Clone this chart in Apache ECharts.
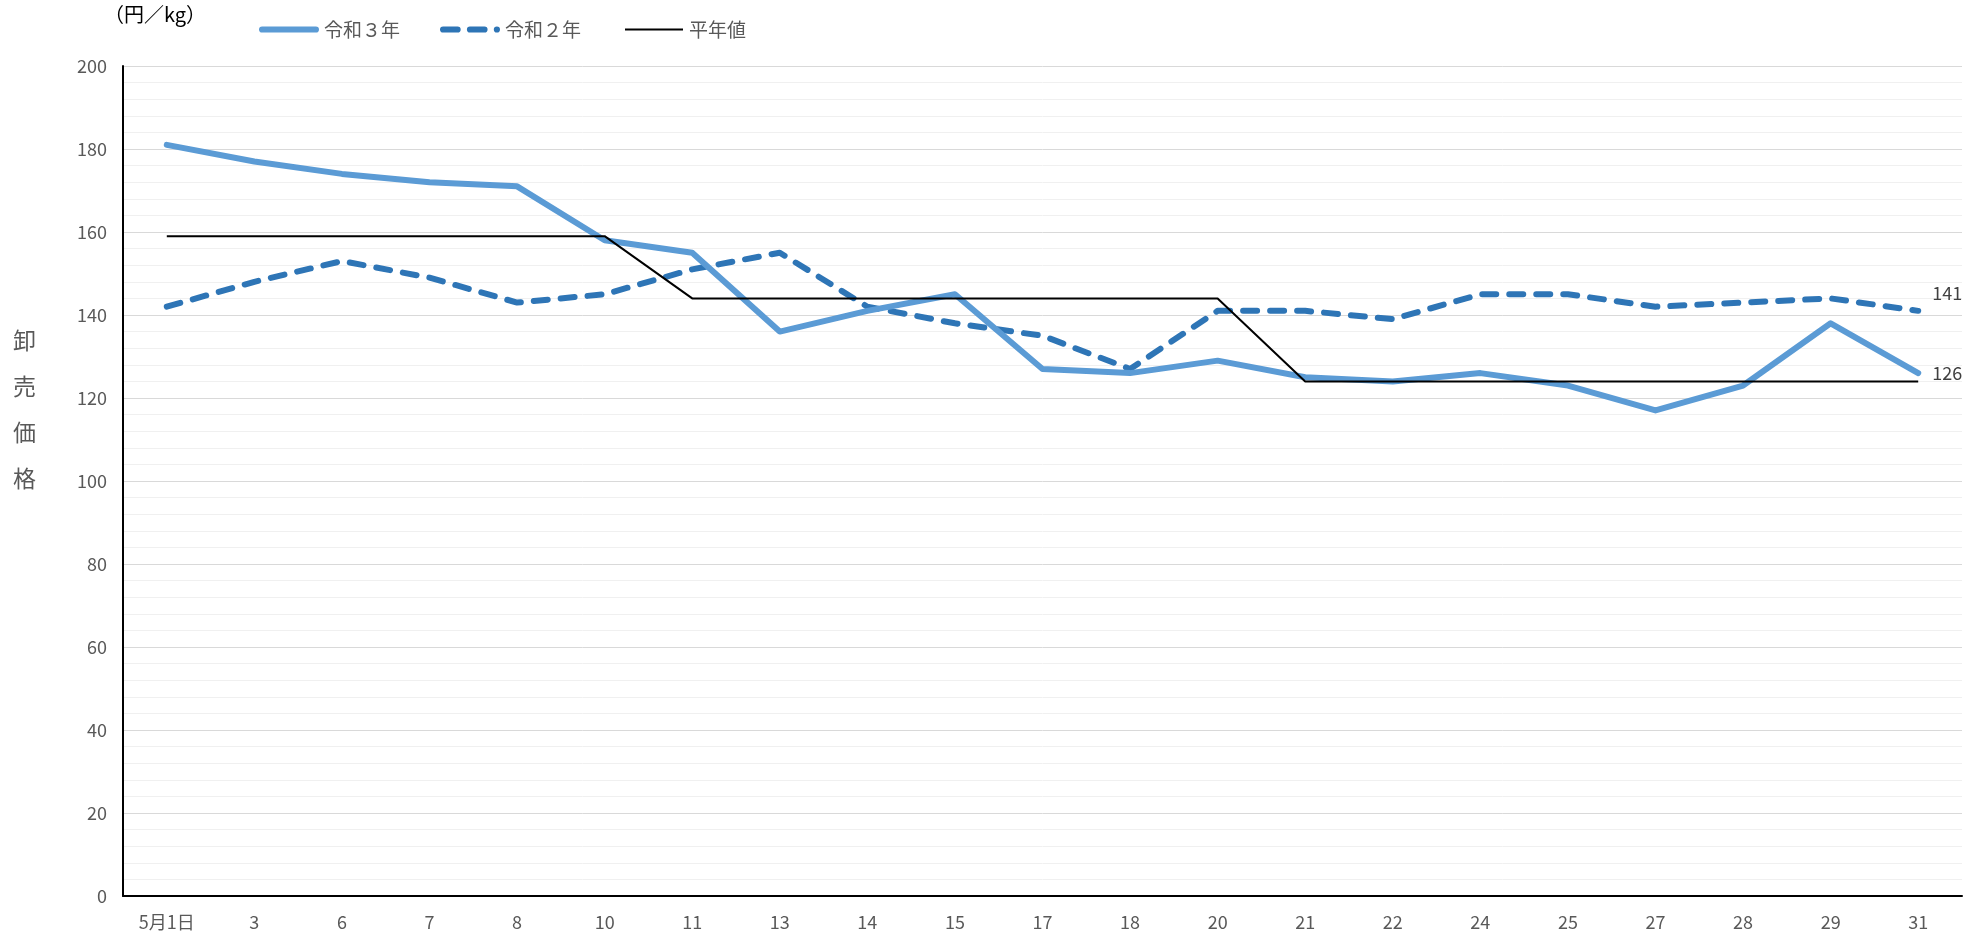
<!DOCTYPE html>
<html><head><meta charset="utf-8">
<script src="https://cdn.jsdelivr.net/npm/echarts@6/dist/echarts.min.js"></script>
<style>html,body{margin:0;padding:0;background:#fff}#c{width:1975px;height:938px}</style>
</head><body><div id="c"></div>
<script>
const categories = ['5月1日','3','6','7','8','10','11','13','14','15','17','18','20','21','22','24','25','27','28','29','31'];
const r3 = [181,177,174,172,171,158,155,136,141,145,127,126,129,125,124,126,123,117,123,138,126];
const r2 = [142,148,153,149,143,145,151,155,142,138,135,127,141,141,139,145,145,142,143,144,141];
const normal = [159,159,159,159,159,159,144,144,144,144,144,144,144,124,124,124,124,124,124,124,124];
const seriesNames = ['令和３年','令和２年','平年値'];
const FONT = "'Liberation Sans Narrow','Noto Sans CJK JP',sans-serif";

const legendText = {color: '#595959', fontSize: 19, fontFamily: FONT};
const solidIcon = 'path://M3,0H55A3,3 0 0 1 55,6H3A3,3 0 0 1 3,0Z';
const dashIcon = 'path://M3,0H17A3,3 0 0 1 17,6H3A3,3 0 0 1 3,0Z M29,0H43A3,3 0 0 1 43,6H29A3,3 0 0 1 29,0Z M55,0A3,3 0 0 1 55,6A3,3 0 0 1 55,0Z';
const thinIcon = 'path://M0,0H58V2H0Z';

const chart = echarts.init(document.getElementById('c'));
chart.setOption({
  animation: false,
  textStyle: {fontFamily: FONT},
  grid: {left: 123, right: 13, top: 66, bottom: 42},
  legend: [
    {top: 15, left: 254, itemWidth: 60, itemHeight: 7, textStyle: legendText,
     data: [{name: seriesNames[0], icon: solidIcon}]},
    {top: 15, left: 435, itemWidth: 60, itemHeight: 7, textStyle: legendText,
     data: [{name: seriesNames[1], icon: dashIcon}]},
    {top: 15, left: 620, itemWidth: 60, itemHeight: 2, textStyle: legendText,
     data: [{name: seriesNames[2], icon: thinIcon}]}
  ],
  xAxis: {
    type: 'category', data: categories, boundaryGap: true,
    axisLine: {lineStyle: {color: '#000', width: 2}},
    axisTick: {show: false},
    axisLabel: {color: '#595959', fontSize: 18, margin: 17, interval: 0}
  },
  yAxis: {
    type: 'value', min: 0, max: 200, interval: 20,
    axisLine: {show: true, lineStyle: {color: '#000', width: 2}},
    axisTick: {show: false},
    axisLabel: {color: '#595959', fontSize: 18, margin: 16},
    splitLine: {lineStyle: {color: '#d9d9d9', width: 1}},
    minorTick: {show: false, splitNumber: 5},
    minorSplitLine: {show: true, lineStyle: {color: '#f0f0f0', width: 1}}
  },
  graphic: [
    {type: 'text', left: 104, top: 4, style: {text: '（円／kg）', fill: '#000', fontSize: 20, fontFamily: FONT}},
    {type: 'text', left: 13, top: 317, style: {text: '卸\n売\n価\n格', fill: '#595959', fontSize: 23, lineHeight: 46, fontFamily: FONT}}
  ],
  series: [
    {name: seriesNames[0], type: 'line', data: r3, symbol: 'none', z: 3,
     lineStyle: {color: '#5B9BD5', width: 6, cap: 'round', join: 'round'}, itemStyle: {color: '#5B9BD5'},
     endLabel: {show: true, formatter: '{c}', color: '#404040', fontSize: 18, offset: [6, 0]}},
    {name: seriesNames[1], type: 'line', data: r2, symbol: 'none', z: 2,
     lineStyle: {color: '#2E75B6', width: 6, type: [14, 13], cap: 'round', join: 'round'}, itemStyle: {color: '#2E75B6'},
     endLabel: {show: true, formatter: '{c}', color: '#404040', fontSize: 18, offset: [6, -18]}},
    {name: seriesNames[2], type: 'line', data: normal, symbol: 'none', z: 4,
     lineStyle: {color: '#000', width: 2}, itemStyle: {color: '#000'}}
  ]
});
</script></body></html>
